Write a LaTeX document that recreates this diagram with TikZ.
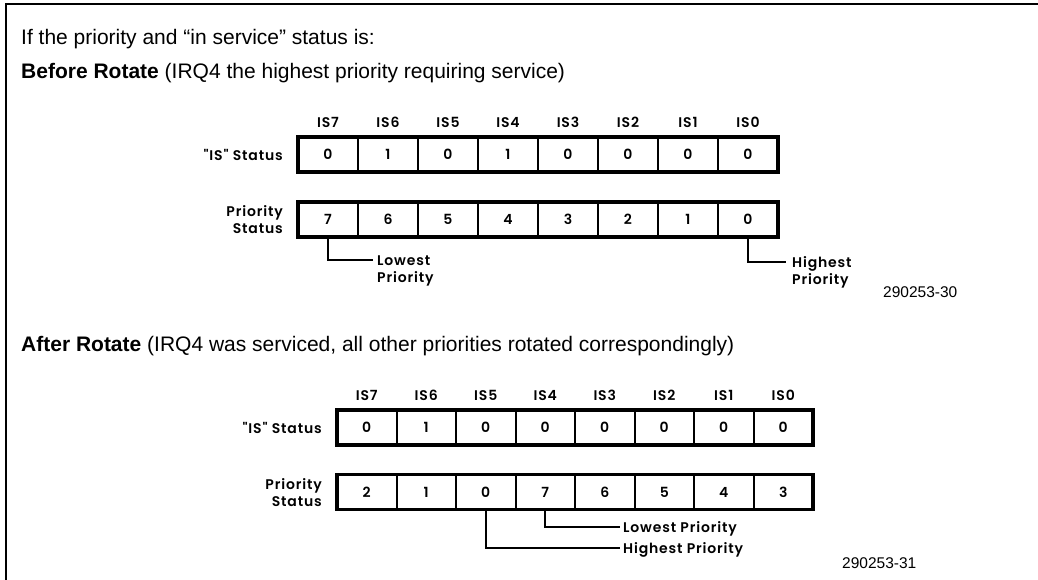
\documentclass[tikz,border=0pt]{standalone}
\usepackage{fontspec}
\setmainfont{Liberation Sans}
\newfontfamily\lblfont{Poppins}[LetterSpace=6, BoldFont={Poppins SemiBold}]
\begin{document}
\begin{tikzpicture}[x=1pt,y=-1pt,
  lblf/.style={font=\lblfont\bfseries\fontsize{14}{17}\selectfont},
  cellA/.style={draw, line width=2pt, minimum width=60pt, minimum height=35pt, inner sep=0pt, outer sep=0pt, lblf},
  cellB/.style={draw, line width=2pt, minimum width=59.5pt, minimum height=35pt, inner sep=0pt, outer sep=0pt, lblf},
  outerbox/.style={line width=3.4pt},
  hdr/.style={lblf, inner sep=0pt, anchor=base},
  rowlbl/.style={lblf, inner sep=0pt, anchor=east, align=right},
  note/.style={lblf, inner sep=0pt, anchor=base west},
  conn/.style={line width=2pt},
  title/.style={font=\fontsize{21}{25}\selectfont, inner sep=0pt, anchor=base west},
  idtxt/.style={font=\fontsize{15.5}{18}\selectfont, inner sep=0pt, anchor=base west}
]
\useasboundingbox (0,0) rectangle (1038,580);
% frame
\draw[line width=2.5pt] (6,580) -- (6,4) -- (1038,4);

% titles
\node[title] (t1) at (21,45) {If the priority and “in service” status is:};
\node[title] (t2) at (21,79) {\textbf{Before Rotate} (IRQ4 the highest priority requiring service)};
\node[title] (t3) at (21,351) {\textbf{After Rotate} (IRQ4 was serviced, all other priorities rotated correspondingly)};

% ---------- before rotate ----------
\foreach \h [count=\k from 0] in {7,6,5,4,3,2,1,0}
  \node[hdr] (ha\k) at ({328+60*\k},128) {IS\h};
\foreach \v [count=\k from 0] in {0,1,0,1,0,0,0,0}
  \node[cellA] (sa\k) at ({328+60*\k},154.5) {\v};
\foreach \v [count=\k from 0] in {7,6,5,4,3,2,1,0}
  \node[cellA] (pa\k) at ({328+60*\k},219.5) {\v};
\draw[outerbox] (sa0.north west) rectangle (sa7.south east);
\draw[outerbox] (pa0.north west) rectangle (pa7.south east);
\node[rowlbl] (rsa) at (283,155) {"IS" Status};
\node[rowlbl] (rpa) at (283,220) {Priority\\Status};

\node[note] (lowa) at (377,265) {Lowest};
\node[note] (lowa2) at (377,282) {Priority};
\node[note] (higha) at (792,267) {Highest};
\node[note] (higha2) at (792,284) {Priority};
\draw[conn] (pa0.south) |- ([xshift=-4pt,yshift=5pt]lowa.base west);
\draw[conn] (pa7.south) |- ([xshift=-6pt,yshift=5pt]higha.base west);
\node[idtxt] (ida) at (883,297) {290253-30};

% ---------- after rotate ----------
\foreach \h [count=\k from 0] in {7,6,5,4,3,2,1,0}
  \node[hdr] (hb\k) at ({366.75+59.5*\k},400) {IS\h};
\foreach \v [count=\k from 0] in {0,1,0,0,0,0,0,0}
  \node[cellB] (sb\k) at ({366.75+59.5*\k},427.5) {\v};
\foreach \v [count=\k from 0] in {2,1,0,7,6,5,4,3}
  \node[cellB] (pb\k) at ({366.75+59.5*\k},492) {\v};
\draw[outerbox] (sb0.north west) rectangle (sb7.south east);
\draw[outerbox] (pb0.north west) rectangle (pb7.south east);
\node[rowlbl] (rsb) at (322,428) {"IS" Status};
\node[rowlbl] (rpb) at (322,493) {Priority\\Status};

\node[note] (lowb) at (623,532) {Lowest Priority};
\node[note] (highb) at (623,553) {Highest Priority};
\draw[conn] (pb3.south) |- ([xshift=-3pt,yshift=5pt]lowb.base west);
\draw[conn] (pb2.south) |- ([xshift=-3pt,yshift=5pt]highb.base west);
\node[idtxt] (idb) at (842,568) {290253-31};
\end{tikzpicture}
\end{document}
